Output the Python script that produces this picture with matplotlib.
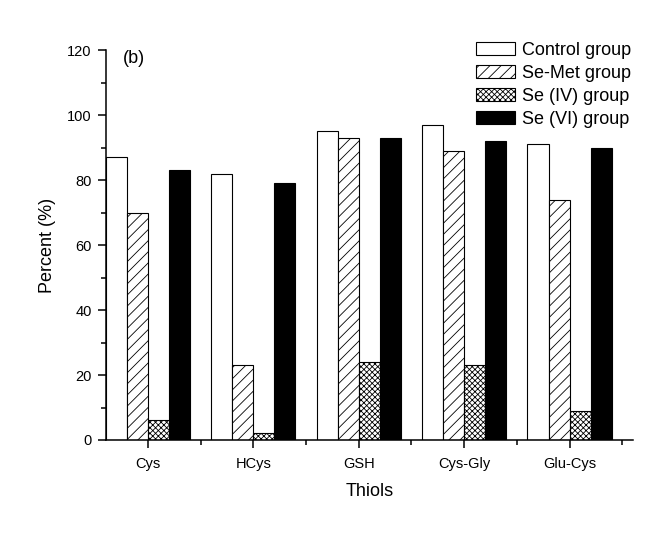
import numpy as np
import matplotlib.pyplot as plt
from matplotlib.ticker import MultipleLocator

thiols = ['Cys', 'HCys', 'GSH', 'Cys-Gly', 'Glu-Cys']
groups = ['Control group', 'Se-Met group', 'Se (IV) group', 'Se (VI) group']
control = [87, 82, 95, 97, 91]
se_met = [70, 23, 93, 89, 74]
se_iv = [6, 2, 24, 23, 9]
se_vi = [83, 79, 93, 92, 90]

plt.rcParams['font.family'] = ['Liberation Sans', 'DejaVu Sans']
plt.rcParams['hatch.linewidth'] = 0.6

fig = plt.figure(figsize=(6.69, 5.33), dpi=100)
ax = fig.add_axes([0.158, 0.1745, 0.788, 0.7315])

x = np.arange(len(thiols))
w = 0.2
styles = [
    dict(facecolor='white', hatch=None),
    dict(facecolor='white', hatch='///'),
    dict(facecolor='white', hatch='xxxxxx'),
    dict(facecolor='black', hatch=None),
]
for i, (vals, st) in enumerate(zip([control, se_met, se_iv, se_vi], styles)):
    ax.bar(x + (i - 1.5) * w, vals, w, label=groups[i], edgecolor='black',
           linewidth=0.8, **st)

ax.set_xlim(-0.4, 4.6)
ax.set_ylim(0, 120)
ax.set_xticks(x)
ax.set_xticklabels(thiols)
ax.xaxis.set_minor_locator(MultipleLocator(1, offset=0.5))
ax.yaxis.set_major_locator(MultipleLocator(20))
ax.yaxis.set_minor_locator(MultipleLocator(10))
ax.spines['top'].set_visible(False)
ax.spines['right'].set_visible(False)
for s in ('left', 'bottom'):
    ax.spines[s].set_linewidth(1.1)
ax.tick_params(axis='both', which='major', length=6, width=1.1, labelsize=10.5, pad=4)
ax.tick_params(axis='x', which='major', pad=6)
ax.tick_params(axis='both', which='minor', length=3.5, width=1.1)
ax.set_xlabel('Thiols', fontsize=13, labelpad=9)
ax.set_ylabel('Percent (%)', fontsize=13, labelpad=8)
ax.text(0.032, 1.0, '(b)', transform=ax.transAxes, fontsize=13, va='top')

ax.legend(loc='upper right', bbox_to_anchor=(1.01, 1.04), frameon=False,
          fontsize=13, handlelength=2.2, handleheight=0.75, labelspacing=0.34,
          handletextpad=0.35, borderaxespad=0)

plt.savefig('out.png', dpi=100)
